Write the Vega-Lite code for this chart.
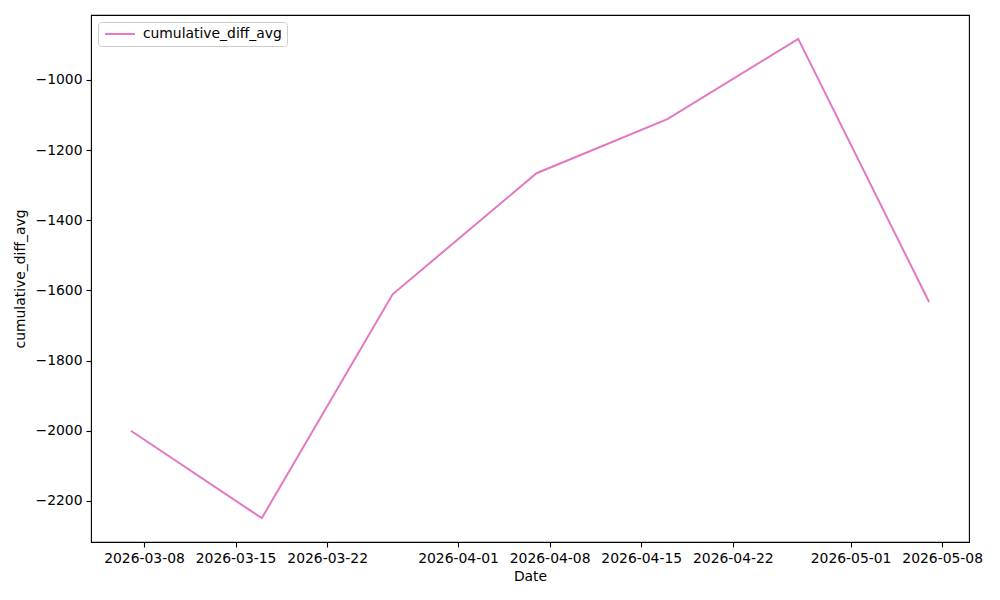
{
  "$schema": "https://vega.github.io/schema/vega-lite/v6.json",
  "width": 878,
  "height": 527,
  "autosize": "none",
  "padding": {"left": 91, "top": 15, "right": 31, "bottom": 58},
  "background": "white",
  "config": {
    "font": "DejaVu Sans",
    "view": {"stroke": "black", "strokeWidth": 1.1},
    "axis": {
      "grid": false,
      "domain": false,
      "tickColor": "black",
      "tickSize": 5,
      "tickWidth": 1.1,
      "labelColor": "black",
      "labelFontSize": 13.9,
      "labelFont": "DejaVu Sans",
      "labelPadding": 4,
      "titleColor": "black",
      "titleFontSize": 13.9,
      "titleFont": "DejaVu Sans",
      "titleFontWeight": "normal"
    }
  },
  "data": {
    "values": [
      {"Date": "2026-03-07", "cumulative_diff_avg": -2000, "series": "cumulative_diff_avg"},
      {"Date": "2026-03-17", "cumulative_diff_avg": -2249, "series": "cumulative_diff_avg"},
      {"Date": "2026-03-27", "cumulative_diff_avg": -1611, "series": "cumulative_diff_avg"},
      {"Date": "2026-04-07", "cumulative_diff_avg": -1266, "series": "cumulative_diff_avg"},
      {"Date": "2026-04-17", "cumulative_diff_avg": -1112, "series": "cumulative_diff_avg"},
      {"Date": "2026-04-27", "cumulative_diff_avg": -883, "series": "cumulative_diff_avg"},
      {"Date": "2026-05-07", "cumulative_diff_avg": -1633, "series": "cumulative_diff_avg"}
    ]
  },
  "mark": {"type": "line", "strokeWidth": 2, "clip": true},
  "encoding": {
    "x": {
      "field": "Date",
      "type": "temporal",
      "title": "Date",
      "scale": {
        "type": "utc",
        "domain": [
          {"year": 2026, "month": 3, "date": 3, "hours": 22, "minutes": 48, "utc": true},
          {"year": 2026, "month": 5, "date": 10, "hours": 1, "minutes": 12, "utc": true}
        ],
        "nice": false
      },
      "axis": {
        "values": [
          {"year": 2026, "month": 3, "date": 8, "utc": true},
          {"year": 2026, "month": 3, "date": 15, "utc": true},
          {"year": 2026, "month": 3, "date": 22, "utc": true},
          {"year": 2026, "month": 4, "date": 1, "utc": true},
          {"year": 2026, "month": 4, "date": 8, "utc": true},
          {"year": 2026, "month": 4, "date": 15, "utc": true},
          {"year": 2026, "month": 4, "date": 22, "utc": true},
          {"year": 2026, "month": 5, "date": 1, "utc": true},
          {"year": 2026, "month": 5, "date": 8, "utc": true}
        ],
        "format": "%Y-%m-%d",
        "labelFlush": false,
        "labelOverlap": false,
        "titlePadding": 5
      }
    },
    "y": {
      "field": "cumulative_diff_avg",
      "type": "quantitative",
      "title": "cumulative_diff_avg",
      "scale": {"domain": [-2317, -815], "nice": false, "zero": false},
      "axis": {
        "values": [-2200, -2000, -1800, -1600, -1400, -1200, -1000],
        "format": "d",
        "labelFlush": false,
        "titlePadding": 8
      }
    },
    "color": {
      "field": "series",
      "type": "nominal",
      "scale": {"range": ["#e377c2"]},
      "legend": {
        "title": null,
        "orient": "none",
        "legendX": 7,
        "legendY": 7,
        "symbolType": "M-1,0H5",
        "symbolSize": 100,
        "symbolStrokeWidth": 2,
        "labelFontSize": 13.9,
        "labelColor": "black",
        "labelFont": "DejaVu Sans",
        "labelOffset": 26,
        "padding": 5,
        "strokeColor": "#cccccc",
        "fillColor": "white",
        "cornerRadius": 3
      }
    }
  }
}
